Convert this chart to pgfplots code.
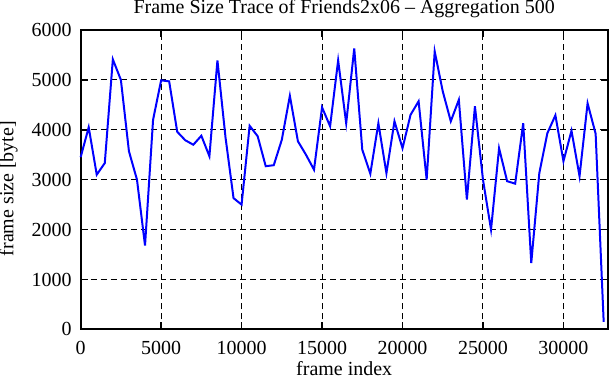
\documentclass[border=0pt]{standalone}
\usepackage{fontspec}
\setmainfont{Liberation Serif}
\usepackage{pgfplots}
\pgfplotsset{compat=1.18}
\begin{document}
\begin{tikzpicture}
\begin{axis}[
  scale only axis,
  width=264pt, height=150pt,
  xmin=0, xmax=32750, ymin=0, ymax=6000,
  xtick={0,5000,...,30000},
  ytick={0,1000,...,6000},
  scaled ticks=false,
  /pgf/number format/assume math mode=true,
  xticklabel={\pgfmathprintnumber[fixed,1000 sep={}]{\tick}},
  yticklabel={\pgfmathprintnumber[fixed,1000 sep={}]{\tick}},
  tick align=inside,
  major tick length=3.5pt,
  tick style={black, line width=0.8pt},
  axis line style={line width=1pt},
  grid=major,
  major grid style={black, line width=0.5pt, dash pattern=on 3pt off 2pt},
  xticklabel style={anchor=base, inner sep=0pt, yshift=-12.5pt},
  yticklabel style={anchor=east, inner sep=0pt, xshift=-4.3pt},
  every axis title/.style={at={(axis description cs:0.5,1)}, anchor=base, yshift=8pt, inner sep=0pt},
  title={Frame Size Trace of Friends2x06 -- Aggregation 500},
  every axis x label/.style={at={(axis description cs:0.5,0)}, anchor=base, yshift=-23pt, inner sep=0pt},
  xlabel={frame index},
  every axis y label/.style={at={(axis description cs:-0.1275,0.47)}, rotate=90, anchor=base, inner sep=0pt},
  ylabel={frame size [byte]},
  clip=false,
]
\addplot[blue, line width=1pt] coordinates {
(0,3450) (500,4050) (1000,3100) (1500,3333) (2000,5410) (2500,5000)
(3000,3570) (3500,3000) (4000,1680) (4500,4200) (5000,4990) (5500,4970)
(6000,3960) (6500,3790) (7000,3700) (7500,3880) (8000,3470) (8500,5390)
(9000,3850) (9500,2630) (10000,2500) (10500,4080) (11000,3870) (11500,3270)
(12000,3290) (12500,3800) (13000,4680) (13500,3770) (14000,3500) (14500,3200)
(15000,4450) (15500,4070) (16000,5390) (16500,4130) (17000,5630) (17500,3600)
(18000,3120) (18500,4130) (19000,3130) (19500,4170) (20000,3630) (20500,4300)
(21000,4570) (21500,3000) (22000,5570) (22500,4770) (23000,4170) (23500,4600)
(24000,2600) (24500,4470) (25000,3000) (25500,2000) (26000,3630) (26500,2970)
(27000,2920) (27500,4130) (28000,1330) (28500,3130) (29000,3930) (29500,4290)
(30000,3370) (30500,3980) (31000,3070) (31500,4530) (32000,3920) (32500,150)
};
\coordinate (ll) at (rel axis cs:0,0);
\coordinate (ur) at (rel axis cs:1,1);
\end{axis}
\pgfresetboundingbox
\path (ll) ++(-40.4pt,-25pt) coordinate (a);
\path (ur) ++(1.65pt,15pt) coordinate (b);
\path[use as bounding box] (a) rectangle (b);
\end{tikzpicture}
\end{document}
